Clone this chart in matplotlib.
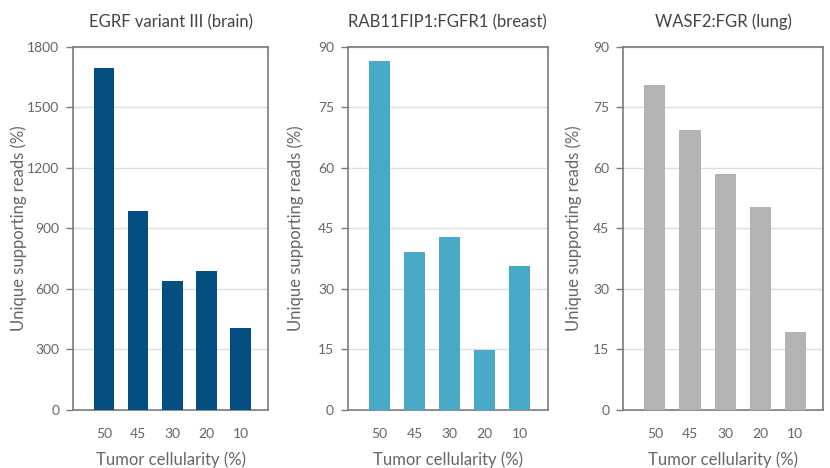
import matplotlib
matplotlib.use('Agg')
import matplotlib.pyplot as plt
import numpy as np

plt.rcParams['font.family'] = ['Lato', 'DejaVu Sans']

cellularity = ['50', '45', '30', '20', '10']
titles = ['EGRF variant III (brain)', 'RAB11FIP1:FGFR1 (breast)', 'WASF2:FGR (lung)']
egfr_reads = [1695, 985, 638, 690, 407]
rab11_reads = [86.5, 39.2, 42.9, 14.9, 35.7]
wasf2_reads = [80.6, 69.4, 58.5, 50.3, 19.3]
colors = ['#034f82', '#47a9c6', '#b3b3b3']
y_max = [1800, 90, 90]
y_step = [300, 15, 15]

text_col = '#666666'
fig = plt.figure(figsize=(8.3, 4.68), dpi=100)
positions = [[0.088, 0.124, 0.235, 0.776],
             [0.419, 0.124, 0.241, 0.776],
             [0.751, 0.124, 0.241, 0.776]]
ylabel_x = [-0.236, -0.22, -0.205]

for pos, vals, col, title, ymax, step, lx in zip(positions, [egfr_reads, rab11_reads, wasf2_reads],
                                                  colors, titles, y_max, y_step, ylabel_x):
    ax = fig.add_axes(pos)
    x = np.arange(len(cellularity))
    ax.bar(x, vals, width=0.6, color=col, zorder=3)
    ax.set_xlim(-0.9, 4.8)
    ax.set_ylim(0, ymax)
    ax.set_yticks(np.arange(0, ymax + 1, step))
    ax.set_xticks(x)
    ax.set_xticklabels(cellularity)
    ax.grid(axis='y', color='#dddddd', linewidth=1, zorder=0)
    for s in ax.spines.values():
        s.set_color('#7a7a7a')
        s.set_linewidth(1.2)
    ax.tick_params(axis='x', length=0, pad=13, labelsize=10, labelcolor=text_col)
    ax.tick_params(axis='y', length=5, width=1, color='#7a7a7a', pad=5, labelsize=10, labelcolor=text_col)
    ax.set_title(title, fontsize=12, color='#444444', pad=14)
    ax.set_xlabel('Tumor cellularity (%)', fontsize=12, color=text_col, labelpad=8)
    ax.set_ylabel('Unique supporting reads (%)', fontsize=12, color=text_col)
    ax.yaxis.set_label_coords(lx, 0.5)

plt.savefig('out.png', dpi=100)
